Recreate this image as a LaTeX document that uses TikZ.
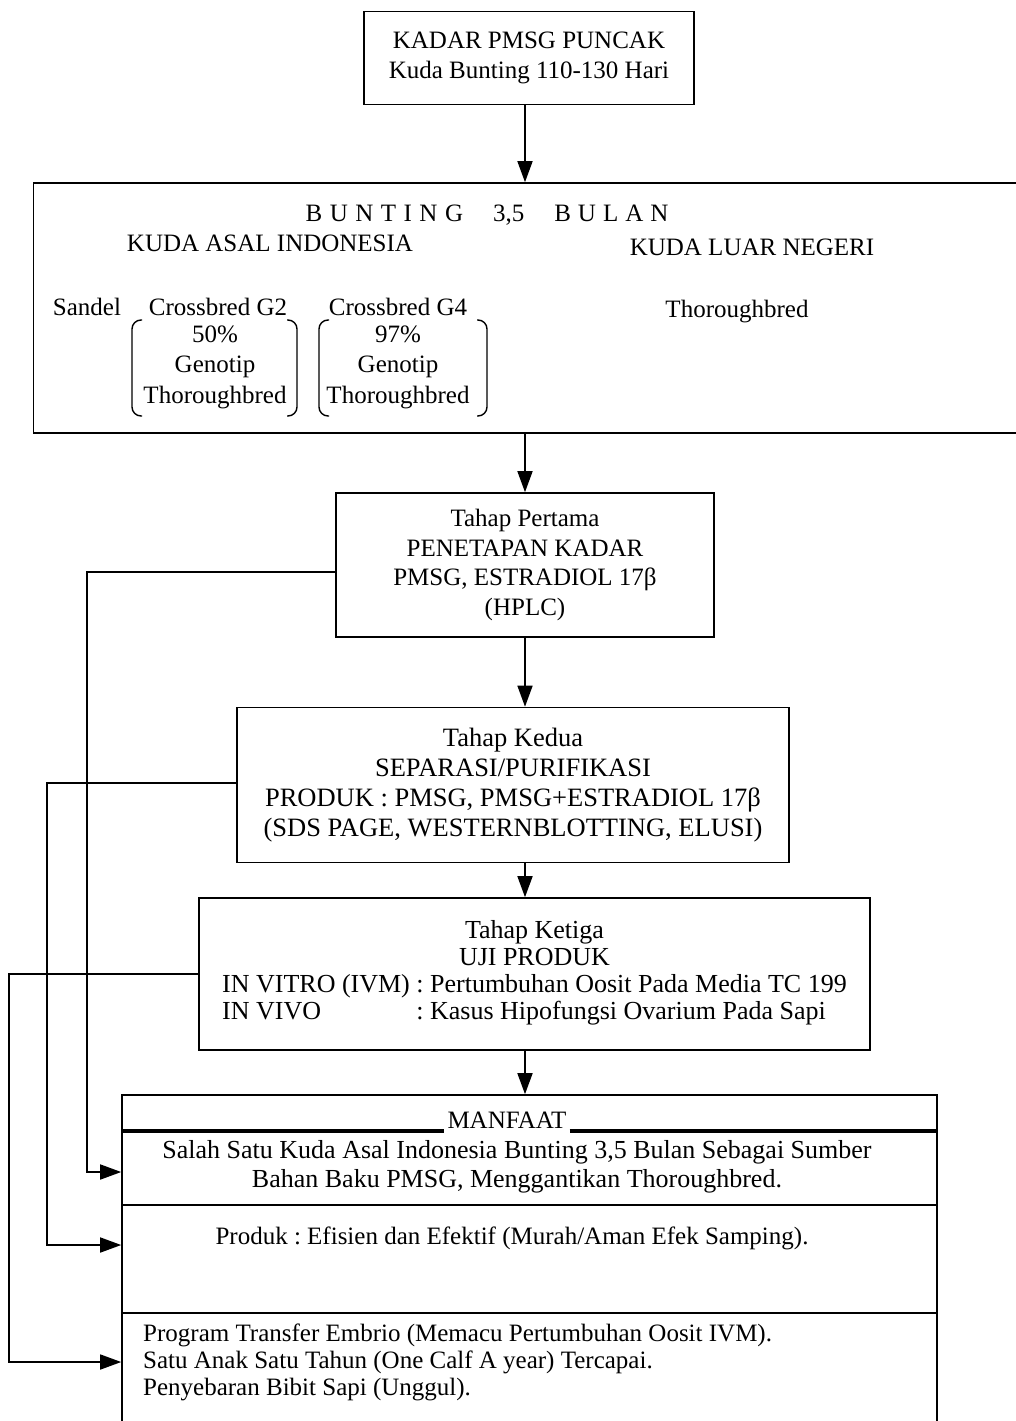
\documentclass[tikz,border=0pt]{standalone}
\usepackage{fontspec}
\setmainfont{Liberation Serif}
\usetikzlibrary{arrows.meta,calc}
\newcommand{\myfs}[1]{\fontsize{25}{#1}\selectfont}
\newcommand{\myfsb}[2]{\fontsize{#1}{#2}\selectfont}
\frenchspacing
\begin{document}
\begin{tikzpicture}[x=1pt,y=-1pt,
  box/.style={draw, line width=1.6pt, inner sep=0pt, align=center},
  arr/.style={line width=1.6pt, -{Triangle[length=21pt,width=15pt]}},
  txt/.style={inner sep=0pt, align=center, font=\myfs{30}},
  brk/.style={line width=1.4pt, rounded corners=9pt},
  divl/.style={line width=1.6pt},
  ul/.style={line width=4pt}]
\useasboundingbox (0,0) rectangle (1015,1421);
% boxes
\node[box, minimum width=330pt, minimum height=93pt, font=\myfs{30}] (b1) at (529,58) {KADAR PMSG PUNCAK\\Kuda Bunting 110-130 Hari};
\node[box, minimum width=987pt, minimum height=250pt] (b2) at (527,308) {};
\node[box, minimum width=378pt, minimum height=144pt, font=\myfs{29.5}] (b3) at (525,565) {Tahap Pertama\\PENETAPAN KADAR\\PMSG, ESTRADIOL 17β\\(HPLC)};
\node[box, minimum width=552pt, minimum height=155pt, font=\myfsb{26.5}{30}] (b4) at (513,785) {Tahap Kedua\\SEPARASI/PURIFIKASI\\PRODUK : PMSG, PMSG+ESTRADIOL 17β\\(SDS PAGE, WESTERNBLOTTING, ELUSI)};
\node[box, minimum width=671pt, minimum height=152pt, font=\myfsb{26}{27}] (b5) at (534.5,974) {Tahap Ketiga\\UJI PRODUK\\\begin{tabular}[t]{@{}l@{ }l@{}}IN VITRO (IVM) & : Pertumbuhan Oosit Pada Media TC 199\\IN VIVO & : Kasus Hipofungsi Ovarium Pada Sapi\end{tabular}};
\node[box, minimum width=815pt, minimum height=335pt] (b6) at (529.5,1262.5) {};
% box 2 contents
\node[txt, anchor=base] (bt) at (487,221) {B\hspace{7.5pt}U\hspace{7.5pt}N\hspace{7.5pt}T\hspace{7.5pt}I\hspace{7.5pt}N\hspace{7.5pt}G\hspace{30pt}3,5\hspace{30pt}B\hspace{7pt}U\hspace{7pt}L\hspace{7pt}A\hspace{7pt}N};
\node[txt, anchor=base] (kai) at (270,251) {KUDA ASAL INDONESIA};
\node[txt, anchor=base] (kln) at (752,255) {KUDA LUAR NEGERI};
\node[txt, anchor=base] (sd) at (87,315) {Sandel};
\node[txt, anchor=base] (c2) at (218,315) {Crossbred G2};
\node[txt, anchor=base] (c4) at (398,315) {Crossbred G4};
\node[txt, anchor=base] (tb) at (737,317) {Thoroughbred};
\node[txt, font=\myfs{30.5}] (g1) at (215,367) {50\%\\Genotip\\Thoroughbred};
\node[txt, font=\myfs{30.5}] (g2) at (398,367) {97\%\\Genotip\\Thoroughbred};
\draw[brk] (142,320) -- (132,320) -- (132,416) -- (142,416);
\draw[brk] (287,320) -- (297,320) -- (297,416) -- (287,416);
\draw[brk] (329,320) -- (319,320) -- (319,416) -- (329,416);
\draw[brk] (477,320) -- (487,320) -- (487,416) -- (477,416);
% box 6 contents
\node[txt, anchor=base] (mf) at (507,1128) {MANFAAT};
\draw[ul] ($(b6.west |- mf.base)+(0,3)$) -- ($(mf.base west)+(-3,3)$);
\draw[ul] ($(mf.base east)+(3,3)$) -- ($(b6.east |- mf.base)+(0,3)$);
\node[txt, font=\myfsb{26}{29}] (s1) at (517,1167) {Salah Satu Kuda Asal Indonesia Bunting 3,5 Bulan Sebagai Sumber\\Bahan Baku PMSG, Menggantikan Thoroughbred.};
\draw[divl] (b6.west |- 0,1205) -- (b6.east |- 0,1205);
\node[txt] (s2) at (512,1238) {Produk : Efisien dan Efektif (Murah/Aman Efek Samping).};
\draw[divl] (b6.west |- 0,1313) -- (b6.east |- 0,1313);
\node[txt, anchor=west, align=left, font=\myfs{27}] (s3) at (143,1362) {Program Transfer Embrio (Memacu Pertumbuhan Oosit IVM).\\Satu Anak Satu Tahun (One Calf A year) Tercapai.\\Penyebaran Bibit Sapi (Unggul).};
% vertical arrows
\draw[arr] (b3.north |- b1.south) -- (b3.north |- b2.north);
\draw[arr] (b3.north |- b2.south) -- (b3.north);
\draw[arr] (b3.south) -- (b3.south |- b4.north);
\draw[arr] (b3.south |- b4.south) -- (b3.south |- b5.north);
\draw[arr] (b3.south |- b5.south) -- (b3.south |- b6.north);
% side connectors
\draw[arr] ([yshift=-7pt]b3.west) -- ++(-248,0) |- ($(b6.west |- s1)+(0,5)$);
\draw[arr] ([yshift=2pt]b4.west) -- ++(-189,0) |- ($(b6.west |- s2)+(0,7)$);
\draw[arr] (b5.west) -- ++(-189,0) |- (b6.west |- s3);
\end{tikzpicture}
\end{document}
